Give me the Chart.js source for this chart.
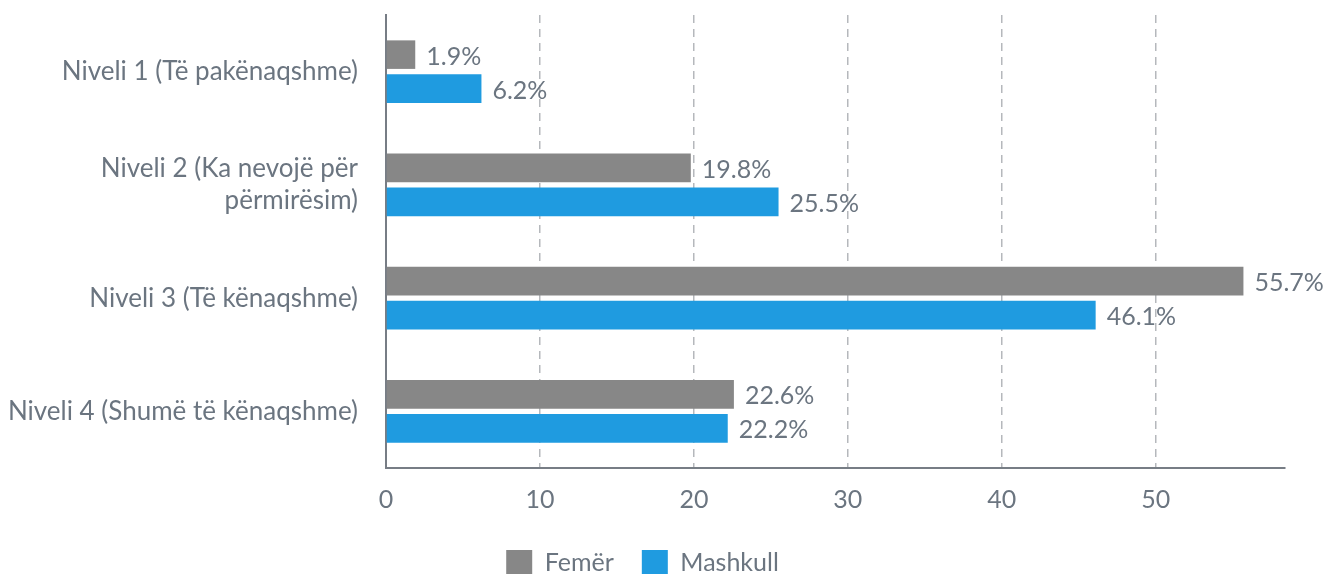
<!DOCTYPE html>
<html>
<head>
<meta charset="utf-8">
<script src="https://cdn.jsdelivr.net/npm/chart.js@4"></script>
<style>
  html, body { margin: 0; padding: 0; background: #fff; }
  #wrap { width: 1325px; height: 574px; position: relative; }
</style>
</head>
<body>
<div id="wrap"><canvas id="chart"></canvas></div>
<script>
const categories = [
  'Niveli 1 (Të pakënaqshme)',
  ['Niveli 2 (Ka nevojë për', 'përmirësim)'],
  'Niveli 3 (Të kënaqshme)',
  'Niveli 4 (Shumë të kënaqshme)'
];
const femer = [1.9, 19.8, 55.7, 22.6];
const mashkull = [6.2, 25.5, 46.1, 22.2];
const xTicks = [0, 10, 20, 30, 40, 50];

const textColor = '#6b7580';
const font = { family: 'Lato', size: 25 };
const catFont = { family: 'Lato', size: 26, lineHeight: 1.23 };

const valueLabels = {
  id: 'valueLabels',
  afterDatasetsDraw(chart) {
    const ctx = chart.ctx;
    ctx.save();
    ctx.font = font.size + 'px ' + font.family;
    ctx.fillStyle = textColor;
    ctx.textAlign = 'left';
    ctx.textBaseline = 'middle';
    chart.data.datasets.forEach((ds, i) => {
      chart.getDatasetMeta(i).data.forEach((bar, j) => {
        ctx.fillText(ds.data[j].toFixed(1) + '%', bar.x + 11, bar.y + 2);
      });
    });
    ctx.restore();
  }
};

new Chart(document.getElementById('chart'), {
  type: 'bar',
  data: {
    labels: categories,
    datasets: [
      { label: 'Femër', data: femer, backgroundColor: '#878787' },
      { label: 'Mashkull', data: mashkull, backgroundColor: '#1f9be0' }
    ]
  },
  options: {
    indexAxis: 'y',
    responsive: true,
    maintainAspectRatio: false,
    animation: false,
    categoryPercentage: 0.6,
    barPercentage: 0.84,
    layout: { padding: { top: 15, right: 40, left: 0, bottom: -12 } },
    plugins: {
      tooltip: { enabled: false },
      legend: {
        position: 'bottom',
        labels: { boxWidth: 26, boxHeight: 26, padding: 28, color: textColor, font: font }
      }
    },
    scales: {
      x: {
        min: 0,
        max: 58.4,
        afterBuildTicks: axis => { axis.ticks = xTicks.map(v => ({ value: v })); },
        afterFit: scale => { scale.height -= 10; },
        grid: { color: '#b5b8bc', lineWidth: 1.5, drawTicks: false },
        border: { display: true, color: '#777d85', width: 2, dash: [8, 6] },
        ticks: { color: textColor, font: font, padding: 17 }
      },
      y: {
        afterFit: scale => { scale.width = 386; scale.paddingTop = 0; scale.paddingBottom = 0; },
        grid: { display: false, drawTicks: false },
        border: { display: true, color: '#777d85', width: 2 },
        ticks: { color: textColor, font: catFont, padding: 28 }
      }
    }
  },
  plugins: [valueLabels]
});
</script>
</body>
</html>
